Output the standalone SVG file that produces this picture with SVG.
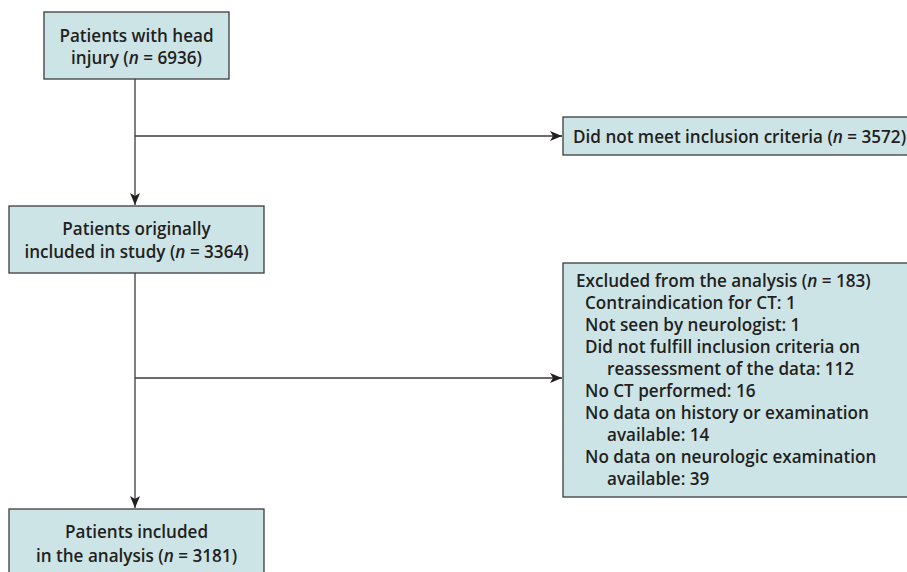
<svg xmlns="http://www.w3.org/2000/svg" width="907" height="572" viewBox="0 0 907 572">
<style>
.box{fill:#cde4e7;stroke:#3b3b3b;stroke-width:1.3}
.t{font-family:"Open Sans","Noto Sans",sans-serif;font-weight:600;font-size:17.1px;fill:#231f20}
.c{text-anchor:middle}
.ln{stroke:#3b3b3b;stroke-width:1.3;fill:none}
</style>
<defs>
<marker id="ah" viewBox="0 0 12 10" refX="12" refY="5" markerWidth="12" markerHeight="10" markerUnits="userSpaceOnUse" orient="auto">
<path d="M0,0 L12,5 L0,10 L3,5 Z" fill="#231f20"/>
</marker>
</defs>
<g id="connectors">
<line class="ln" x1="135" y1="79" x2="135" y2="205" marker-end="url(#ah)"/>
<line class="ln" x1="135" y1="136" x2="562" y2="136" marker-end="url(#ah)"/>
<line class="ln" x1="135" y1="273" x2="135" y2="508" marker-end="url(#ah)"/>
<line class="ln" x1="135" y1="378" x2="562" y2="378" marker-end="url(#ah)"/>
</g>
<g id="n1">
<rect class="box" x="44" y="12" width="185" height="67"/>
<text class="t c" x="136.5" y="42">Patients with head</text>
<text class="t c" x="136.5" y="64">injury (<tspan font-style="italic">n</tspan> = 6936)</text>
</g>
<g id="n2">
<rect class="box" x="563" y="117" width="360" height="38"/>
<text class="t" x="573" y="143">Did not meet inclusion criteria (<tspan font-style="italic">n</tspan> = 3572)</text>
</g>
<g id="n3">
<rect class="box" x="9" y="206" width="255" height="67"/>
<text class="t c" x="136.5" y="235">Patients originally</text>
<text class="t c" x="136.5" y="258">included in study (<tspan font-style="italic">n</tspan> = 3364)</text>
</g>
<g id="n4">
<rect class="box" x="563" y="263" width="360" height="234"/>
<text class="t" x="576" y="287">Excluded from the analysis (<tspan font-style="italic">n</tspan> = 183)</text>
<text class="t" x="585" y="309">Contraindication for CT: 1</text>
<text class="t" x="585" y="331">Not seen by neurologist: 1</text>
<text class="t" x="585" y="353">Did not fulfill inclusion criteria on</text>
<text class="t" x="607" y="375">reassessment of the data: 112</text>
<text class="t" x="585" y="397">No CT performed: 16</text>
<text class="t" x="585" y="419">No data on history or examination</text>
<text class="t" x="607" y="441">available: 14</text>
<text class="t" x="585" y="463">No data on neurologic examination</text>
<text class="t" x="607" y="485">available: 39</text>
</g>
<g id="n5">
<rect class="box" x="9" y="509" width="255" height="80"/>
<text class="t c" x="136.5" y="538">Patients included</text>
<text class="t c" x="136.5" y="562">in the analysis (<tspan font-style="italic">n</tspan> = 3181)</text>
</g>
</svg>
